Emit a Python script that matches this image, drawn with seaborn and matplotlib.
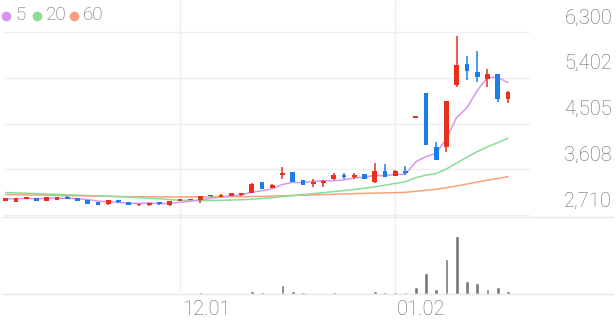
import matplotlib
matplotlib.use("Agg")
import matplotlib.pyplot as plt
import seaborn as sns
import numpy as np
import pandas as pd
from matplotlib.lines import Line2D

# ---------------- data ----------------
opens = [2985, 2970, 3030, 3040, 2985, 3010, 3055, 3040, 3000, 2960,
         2920, 2995, 2965, 2900, 2900, 2960, 2900, 2985, 3000, 3000,
         3100, 3070, 3080, 3095, 3140, 3350, 3240, 3490, 3555, 3395,
         3320, 3330, 3410, 3490, 3460, 3515, 3355, 3570, 3475, 3580,
         4615, 5095, 4050, 4040, 5260, 5670, 5515, 5380, 5470, 4985]
highs = [3040, 3045, 3050, 3045, 3070, 3070, 3075, 3045, 3005, 2965,
         3005, 3010, 2970, 2930, 2955, 2965, 2985, 3030, 3030, 3085,
         3110, 3115, 3140, 3145, 3330, 3355, 3310, 3645, 3560, 3400,
         3410, 3390, 3530, 3530, 3540, 3520, 3735, 3710, 3585, 3670,
         4630, 5100, 4150, 4955, 6220, 5830, 5935, 5570, 5480, 5135]
lows = [2975, 2965, 3025, 2980, 2980, 3005, 3020, 2980, 2925, 2900,
        2915, 2950, 2900, 2895, 2895, 2915, 2895, 2980, 2995, 2955,
        3070, 3065, 3075, 3090, 3135, 3215, 3235, 3410, 3350, 3300,
        3265, 3265, 3395, 3410, 3420, 3415, 3345, 3455, 3470, 3500,
        4615, 4075, 3785, 3950, 5215, 5360, 5320, 5225, 4925, 4915]
closes = [3035, 3040, 3045, 2985, 3065, 3065, 3030, 2985, 2930, 2905,
          3000, 2960, 2905, 2925, 2950, 2920, 2980, 3025, 3025, 3080,
          3075, 3110, 3135, 3135, 3325, 3220, 3305, 3530, 3355, 3305,
          3355, 3385, 3500, 3450, 3500, 3420, 3570, 3460, 3580, 3530,
          4630, 4085, 3790, 4950, 5650, 5535, 5420, 5470, 4980, 5130]
ma5 = [3025, 3030, 3035, 3030, 3034, 3040, 3038, 3026, 3015, 2983,
       2970, 2956, 2940, 2939, 2948, 2932, 2936, 2960, 2980, 3006,
       3037, 3063, 3085, 3107, 3156, 3185, 3224, 3310, 3350, 3345,
       3370, 3386, 3380, 3399, 3438, 3451, 3488, 3480, 3506, 3512,
       3753, 3856, 3922, 4210, 4625, 4815, 5150, 5410, 5411, 5307]
ma20 = [3151, 3144, 3137, 3130, 3122, 3114, 3107, 3100, 3093, 3085,
        3078, 3071, 3063, 3051, 3040, 3028, 3014, 3000, 2995, 2993,
        2995, 2998, 3004, 3010, 3018, 3034, 3051, 3071, 3091, 3110,
        3130, 3149, 3169, 3189, 3210, 3236, 3263, 3295, 3328, 3363,
        3442, 3491, 3524, 3614, 3730, 3846, 3952, 4048, 4128, 4219]
ma60 = [3112, 3108, 3104, 3101, 3098, 3094, 3090, 3087, 3084, 3081,
        3077, 3073, 3069, 3068, 3067, 3066, 3065, 3065, 3065, 3066,
        3066, 3067, 3068, 3069, 3071, 3075, 3081, 3087, 3093, 3098,
        3104, 3110, 3116, 3122, 3128, 3134, 3140, 3144, 3148, 3155,
        3175, 3195, 3214, 3246, 3279, 3318, 3357, 3393, 3426, 3461]
volumes = [32000, 24000, 28000, 36000, 32000, 28000, 24000, 32000, 36000, 32000,
           28000, 24000, 28000, 24000, 32000, 28000, 32000, 36000, 28000, 48000,
           32000, 32000, 36000, 36000, 120000, 48000, 40000, 332000, 100000, 48000,
           36000, 36000, 44000, 36000, 40000, 40000, 112000, 68000, 48000, 48000,
           268000, 840000, 200000, 1388000, 2304000, 508000, 428000, 200000, 252000, 108000]
price_ticks = [2710, 3608, 4505, 5402, 6300]
price_tick_labels = ["2,710", "3,608", "4,505", "5,402", "6,300"]
date_tick_pos = [17, 38]
date_tick_labels = ["12.01", "01.02"]
ma_labels = ["5", "20", "60"]

# ---------------- style ----------------
sns.set_theme(style="white")
plt.rcParams["font.family"] = ["Roboto", "DejaVu Sans"]

RED = "#e8301c"
BLUE = "#1a7ee6"
C5 = "#d896f2"
C20 = "#8cdb98"
C60 = "#f7a27c"
GRID = "#efefef"
TXT = "#666666"

W, H = 616, 321
fig = plt.figure(figsize=(W / 100, H / 100), dpi=100)

def frac(x0, y0, x1, y1):
    return [x0 / W, 1 - y1 / H, (x1 - x0) / W, (y1 - y0) / H]

ax = fig.add_axes(frac(3, 0, 530, 216.5))
axv = fig.add_axes(frac(3, 216.5, 530, 293.5))

n = len(closes)
idx = np.arange(n)
df = pd.DataFrame({"i": idx, "open": opens, "high": highs, "low": lows,
                   "close": closes, "ma5": ma5, "ma20": ma20, "ma60": ma60,
                   "volume": volumes})

xlim = ((3 - 5.7) / 10.25, (530 - 5.7) / 10.25)
won_per_px = (6300 - 2710) / (215 - 32)
ylim = (2710 - (216.5 - 215) * won_per_px, 6300 + 32 * won_per_px)

# grid
for v in price_ticks:
    ax.axhline(v, color=GRID, lw=1, zorder=0)
for p in date_tick_pos:
    ax.axvline(p, color=GRID, lw=1, zorder=0)
    axv.axvline(p, color=GRID, lw=1, zorder=0)

# moving averages
sns.lineplot(data=df, x="i", y="ma60", ax=ax, color=C60, lw=1.1, zorder=2)
sns.lineplot(data=df, x="i", y="ma20", ax=ax, color=C20, lw=1.1, zorder=2)
sns.lineplot(data=df, x="i", y="ma5", ax=ax, color=C5, lw=1.1, zorder=2)

# candles
cols = [RED if c >= o else BLUE for o, c in zip(opens, closes)]
minh = 1.6 * won_per_px
bottoms = [min(o, c) for o, c in zip(opens, closes)]
heights = [max(abs(c - o), minh) for o, c in zip(opens, closes)]
ax.vlines(idx, lows, highs, colors=cols, lw=1.1, zorder=3)
ax.bar(idx, heights, bottom=bottoms, width=0.46, color=cols, linewidth=0, zorder=4)

ax.set_xlim(*xlim)
ax.set_ylim(*ylim)
ax.set_xlabel("")
ax.set_ylabel("")
ax.set_xticks([])
ax.set_yticks([])
for s in ax.spines.values():
    s.set_visible(False)

# volume
sns.barplot(data=df, x="i", y="volume", ax=axv, color="#777777", width=0.38,
            saturation=1, native_scale=True, zorder=3)
axv.set_xlim(*xlim)
axv.set_ylim(0, 77 * 40000)
axv.set_xlabel("")
axv.set_ylabel("")
axv.set_xticks([])
axv.set_yticks([])
for s in axv.spines.values():
    s.set_visible(False)

# separators
fig.add_artist(Line2D([3 / W, 613 / W], [1 - 216.6 / H] * 2, color="#e6e6e6", lw=1))
fig.add_artist(Line2D([3 / W, 613 / W], [1 - 293.6 / H] * 2, color="#e6e6e6", lw=1))

# price labels (above gridlines, at right)
for v, lab in zip(price_ticks, price_tick_labels):
    ax.annotate(lab, xy=(1, v), xycoords=ax.get_yaxis_transform(),
                xytext=(82, 14), textcoords="offset pixels",
                ha="right", va="center", fontsize=14.5, color=TXT,
                fontweight="light", annotation_clip=False)

# date labels
for p, lab in zip(date_tick_pos, date_tick_labels):
    axv.annotate(lab, xy=(p, 0), xycoords=axv.get_xaxis_transform(),
                 xytext=(2, -16), textcoords="offset pixels",
                 ha="left", va="center", fontsize=14.5, color=TXT,
                 fontweight="light", annotation_clip=False)

# legend
leg_cols = [C5, C20, C60]
dot_x = [6, 36.7, 74]
txt_x = [15.5, 45.5, 82.5]
for c, dx, tx, lab in zip(leg_cols, dot_x, txt_x, ma_labels):
    fig.add_artist(Line2D([dx / W], [1 - 15.5 / H], marker="o", markersize=6,
                          markerfacecolor=c, markeredgecolor=c, linestyle="none"))
    fig.text(tx / W, 1 - 15.5 / H, lab, ha="left", va="center",
             fontsize=13.5, color=TXT, fontweight="light")

fig.savefig("out.png", dpi=100)
